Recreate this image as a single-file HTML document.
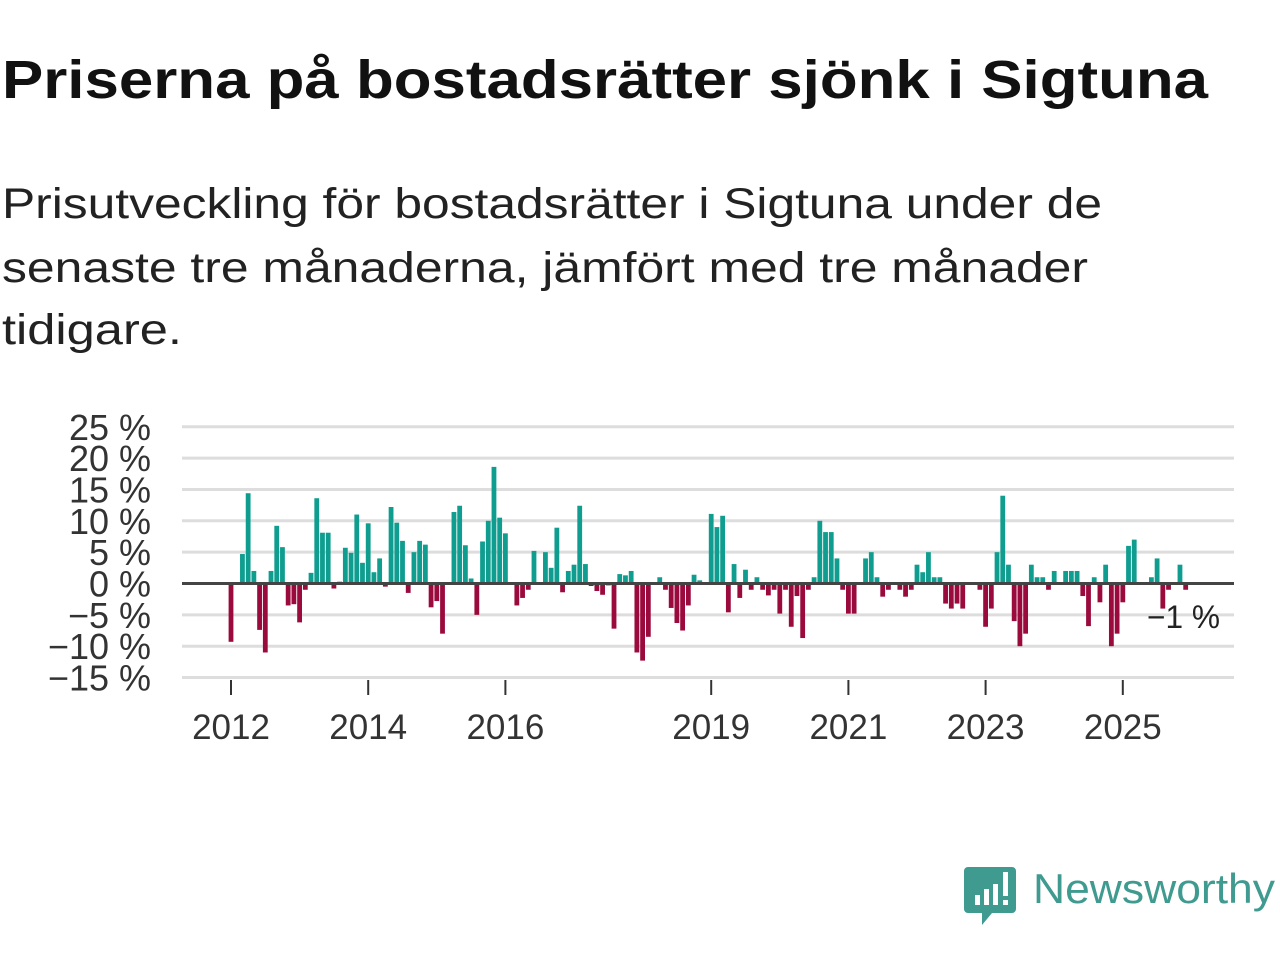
<!DOCTYPE html>
<html><head><meta charset="utf-8"><style>
html,body{margin:0;padding:0;background:#fff;width:1280px;height:960px;overflow:hidden}
svg text{font-family:"Liberation Sans",sans-serif}
</style></head><body>
<svg id="chart" width="1280" height="960" viewBox="0 0 1280 960" xmlns="http://www.w3.org/2000/svg">
<text x="2" y="98" font-size="54" font-weight="bold" fill="#111" textLength="1206" lengthAdjust="spacingAndGlyphs">Priserna på bostadsrätter sjönk i Sigtuna</text>
<g font-size="43" fill="#222">
<text x="2" y="218" textLength="1100" lengthAdjust="spacingAndGlyphs">Prisutveckling för bostadsrätter i Sigtuna under de</text>
<text x="2" y="282" textLength="1086" lengthAdjust="spacingAndGlyphs">senaste tre månaderna, jämfört med tre månader</text>
<text x="2" y="344" textLength="180" lengthAdjust="spacingAndGlyphs">tidigare.</text>
</g>
<g id="grid"></g>
<g id="ylabels"></g>
<g id="bars"></g>
<g id="xaxis"></g>
<line x1="182" x2="1234" y1="583.5" y2="583.5" stroke="#444" stroke-width="3"/>
<text x="1147" y="628" font-size="32" fill="#222" textLength="73" lengthAdjust="spacingAndGlyphs">−1 %</text>
<g>
<path d="M968 867 h44 a4 4 0 0 1 4 4 v38 a4 4 0 0 1 -4 4 h-20 l-10 12 v-12 h-14 a4 4 0 0 1 -4 -4 v-38 a4 4 0 0 1 4 -4z" fill="#3f9a90"/>
<rect x="975" y="895" width="5" height="10" fill="#fff"/>
<rect x="984" y="889" width="5" height="16" fill="#fff"/>
<rect x="993" y="884" width="5" height="21" fill="#fff"/>
<rect x="1003" y="872" width="5" height="24" fill="#fff"/>
<rect x="1003" y="900" width="5" height="5" fill="#fff"/>
<text x="1033" y="903" font-size="42" fill="#3f9a90" textLength="242" lengthAdjust="spacingAndGlyphs">Newsworthy</text>
</g>
</svg>
<script>
const yTicks = [25,20,15,10,5,0,-5,-10,-15];
const yTickLabels = ["25 %","20 %","15 %","10 %","5 %","0 %","−5 %","−10 %","−15 %"];
const xTickYears = [2012,2014,2016,2019,2021,2023,2025];
const startYear = 2012;
const values = [
-9.3,0,4.7,14.4,2,-7.4,-11,2,9.2,5.8,-3.5,-3.3,
-6.2,-1,1.7,13.6,8.1,8.1,-0.8,0.3,5.7,4.9,11,3.3,
9.6,1.8,4,-0.5,12.2,9.7,6.8,-1.5,5,6.8,6.2,-3.8,
-2.8,-8,0,11.4,12.4,6.1,0.8,-5,6.7,10,18.6,10.5,
8,0,-3.5,-2.3,-1,5.2,0,5,2.5,8.9,-1.4,2,
3,12.4,3.1,-0.4,-1.2,-1.8,-0.3,-7.2,1.5,1.3,2,-11,
-12.3,-8.5,0,1,-1,-3.9,-6.3,-7.5,-3.5,1.4,0.5,0,
11.1,9,10.8,-4.6,3.1,-2.3,2.2,-1,1,-1,-1.9,-1,
-4.8,-1,-6.9,-2,-8.7,-1,1,10,8.2,8.2,4,-1,
-4.8,-4.8,0,4,5,1,-2.1,-1,0,-1,-2.1,-1,
3,1.8,5,1,1,-3.2,-4,-3.2,-4,0,0,-1,
-6.9,-4,5,14,3,-6,-10,-8,3,1,1,-1,
2,0,2,2,2,-2,-6.8,1,-3,3,-10,-8,
-3,6,7,0,0,1,4,-4,-1,0,3,-1
];
const NS="http://www.w3.org/2000/svg";
const y = v => 583.5 - v*6.27;
const x = i => 231 + i*(68.6/12);
const grid=document.getElementById('grid'), yl=document.getElementById('ylabels'), bars=document.getElementById('bars'), xa=document.getElementById('xaxis');
yTicks.forEach((t,k)=>{
  const l=document.createElementNS(NS,'line');
  
  
  l.setAttribute('x1',182);l.setAttribute('x2',1234);l.setAttribute('y1',y(t));l.setAttribute('y2',y(t));
  l.setAttribute('stroke','#ddd');l.setAttribute('stroke-width','3');
  grid.appendChild(l);
  const tx=document.createElementNS(NS,'text');
  
  
  tx.setAttribute('x',151);tx.setAttribute('y',y(t)+13);tx.setAttribute('text-anchor','end');
  tx.setAttribute('font-size','36');tx.setAttribute('fill','#333');
  tx.textContent=yTickLabels[k];
  yl.appendChild(tx);
});
values.forEach((v,i)=>{
  const r=document.createElementNS(NS,'rect');
  
  
  r.setAttribute('x',x(i)-2.4);r.setAttribute('width',4.8);
  r.setAttribute('y',Math.min(y(v),y(0)));r.setAttribute('height',Math.abs(y(v)-y(0)));
  r.setAttribute('fill',v>=0?'#0f9d8f':'#9a0a3c');
  bars.appendChild(r);
});
xTickYears.forEach(yr=>{
  const px=x((yr-startYear)*12);
  const l=document.createElementNS(NS,'line');
  
  
  l.setAttribute('x1',px);l.setAttribute('x2',px);l.setAttribute('y1',680);l.setAttribute('y2',695);
  l.setAttribute('stroke','#333');l.setAttribute('stroke-width','2');
  xa.appendChild(l);
  const tx=document.createElementNS(NS,'text');
  
  
  tx.setAttribute('x',px);tx.setAttribute('y',739);tx.setAttribute('text-anchor','middle');
  tx.setAttribute('font-size','35');tx.setAttribute('fill','#333');
  tx.textContent=yr;
  xa.appendChild(tx);
});
</script>
</body></html>
